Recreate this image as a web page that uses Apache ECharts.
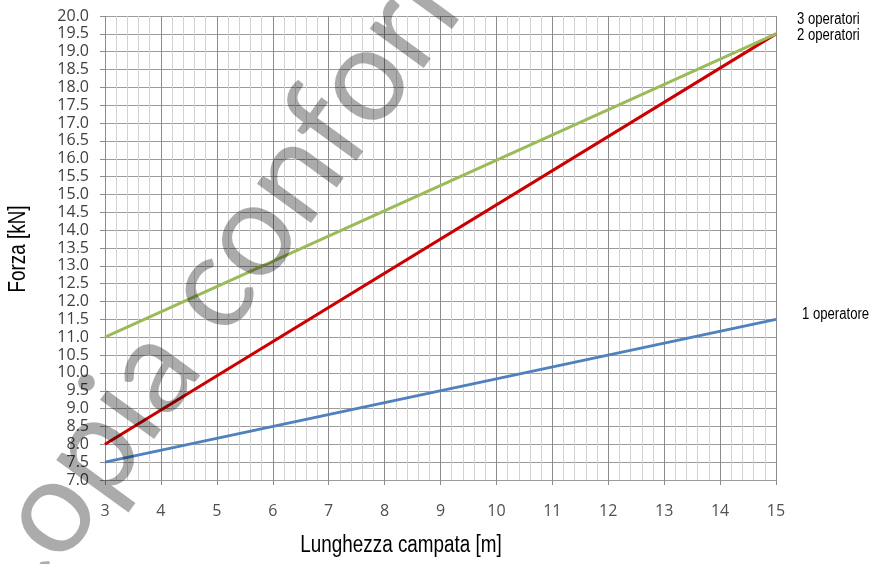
<!DOCTYPE html>
<html>
<head>
<meta charset="utf-8">
<script src="https://cdn.jsdelivr.net/npm/echarts@6/dist/echarts.min.js"></script>
<style>
  html, body { margin: 0; padding: 0; background: #fff; }
  #main { width: 878px; height: 564px; }
</style>
</head>
<body>
<div id="main"></div>
<script>
// span endpoints (x in m, y in kN)
const spanX = [3, 15];
const oneOperator = [7.5, 11.5];
const twoOperators = [8.0, 19.5];
const threeOperators = [11.0, 19.5];
const seriesNames = ['1 operatore', '2 operatori', '3 operatori'];

// no narrow font installed, so squeeze Liberation Sans instead
const narrow = '"Liberation Sans", Arial, sans-serif';
const squeeze = 0.82;
const tickFont = '"Open Sans", sans-serif';

const chart = echarts.init(document.getElementById('main'));

function pairs(values) {
  return spanX.map((x, i) => [x, values[i]]);
}

function lineSeries(name, values, color) {
  return {
    name: name,
    type: 'line',
    data: pairs(values),
    showSymbol: false,
    lineStyle: { color: color, width: 3 },
    itemStyle: { color: color },
    animation: false
  };
}

const option = {
  animation: false,
  grid: { left: 105, right: 102, top: 16, bottom: 84 },
  xAxis: {
    type: 'value',
    min: 3,
    max: 15,
    interval: 1,
    axisLine: { show: false },
    axisTick: { show: true, length: 5, lineStyle: { color: '#8c8c8c' } },
    axisLabel: { margin: 23, color: '#505050', fontFamily: tickFont, fontSize: 16 },
    splitLine: { show: true, lineStyle: { color: '#8c8c8c', width: 1 } },
    minorTick: { show: true, splitNumber: 5, length: 0 },
    minorSplitLine: { show: true, lineStyle: { color: '#d2d2d2', width: 1 } }
  },
  yAxis: {
    type: 'value',
    min: 7,
    max: 20,
    interval: 0.5,
    axisLine: { show: false },
    axisTick: { show: true, length: 5, lineStyle: { color: '#8c8c8c' } },
    axisLabel: {
      margin: 16,
      color: '#404040',
      fontFamily: tickFont,
      fontSize: 16,
      formatter: v => v.toFixed(1)
    },
    splitLine: { show: true, lineStyle: { color: '#9c9c9c', width: 1 } }
  },
  series: [
    lineSeries(seriesNames[0], oneOperator, '#4f81bd'),
    lineSeries(seriesNames[1], twoOperators, '#cc0000'),
    lineSeries(seriesNames[2], threeOperators, '#9bbb59')
  ]
};

chart.setOption(option);

// labels at the right end of each line
const allValues = [oneOperator, twoOperators, threeOperators];
const labelShift = [[26, -5], [21, 2], [21, -14]];
const endLabels = seriesNames.map((name, i) => {
  const values = allValues[i];
  const p = chart.convertToPixel({ gridIndex: 0 }, [spanX[1], values[values.length - 1]]);
  return {
    type: 'text',
    x: p[0] + labelShift[i][0],
    y: p[1] + labelShift[i][1],
    scaleX: squeeze,
    style: {
      text: name,
      fill: '#000',
      font: '16px ' + narrow,
      textAlign: 'left',
      textVerticalAlign: 'middle'
    }
  };
});

chart.setOption({
  graphic: endLabels.concat([
    {
      type: 'text',
      x: 19, y: 249,
      rotation: Math.PI / 2,
      scaleX: squeeze,
      style: {
        text: 'Forza [kN]',
        fill: '#000',
        font: '23px ' + narrow,
        textAlign: 'center',
        textVerticalAlign: 'middle'
      }
    },
    {
      type: 'text',
      x: 401, y: 546,
      scaleX: squeeze,
      style: {
        text: 'Lunghezza campata [m]',
        fill: '#000',
        font: '23px ' + narrow,
        textAlign: 'center',
        textVerticalAlign: 'middle'
      }
    },
    {
      // watermark
      type: 'text',
      x: 246, y: 240,
      rotation: 54 * Math.PI / 180,
      z: 100,
      style: {
        text: 'Copia conforme',
        fill: 'rgba(0,0,0,0.33)',
        font: '132px Lato, sans-serif',
        textAlign: 'center',
        textVerticalAlign: 'middle'
      }
    }
  ])
});
</script>
</body>
</html>
